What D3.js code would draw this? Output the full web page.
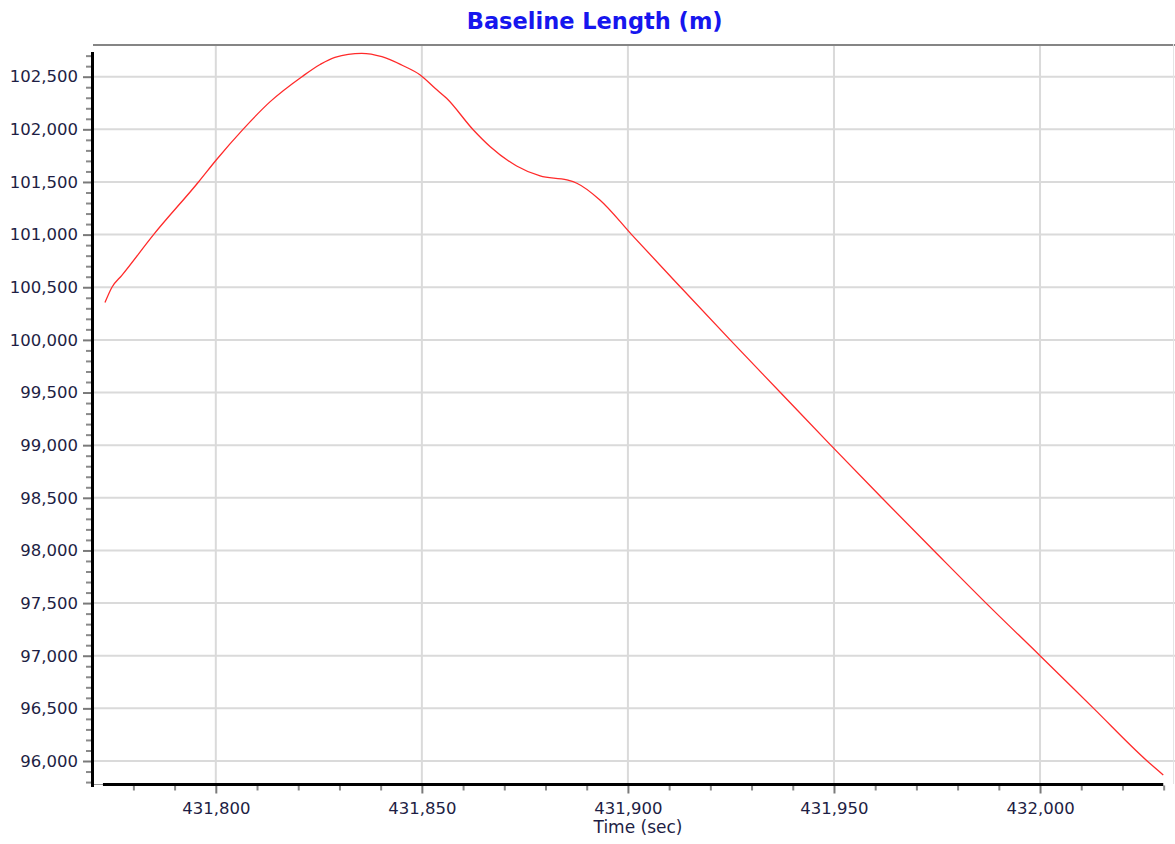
<!DOCTYPE html>
<html>
<head>
<meta charset="utf-8">
<script src="https://cdn.jsdelivr.net/npm/d3@7"></script>
<style>
  html, body { margin: 0; padding: 0; background: #ffffff; }
  svg { display: block; }
  text { font-family: "DejaVu Sans", Verdana, sans-serif; }
</style>
</head>
<body>
<script>
// ---- data ----
const times = [431773.1, 431774.8, 431777.2, 431784.9, 431795.8, 431800.1, 431806.6,
  431813.2, 431820.9, 431825.3, 431828.9, 431835.4, 431840.3, 431845.1, 431849.6, 431853.2,
  431856.0, 431862.5, 431866.6, 431873.0, 431878.7, 431885.2, 431887.6, 431893.2, 431900.9,
  431912.8, 431924.8, 431937.0, 431949.2, 431961.6, 431974.2, 431986.9, 432000.0,
  432013.0, 432026.0, 432029.9];
const lengths = [100354, 100500, 100613, 101000, 101500, 101709, 102000,
  102263, 102500, 102616, 102684, 102722, 102690, 102611, 102516, 102390,
  102295, 101994, 101835, 101652, 101557, 101519, 101488, 101329, 101000,
  100500, 100000, 99500, 99000, 98500, 98000, 97500, 97000,
  96500, 96000, 95868];
const xTicks = [431800, 431850, 431900, 431950, 432000];
const yTicks = [96000, 96500, 97000, 97500, 98000, 98500, 99000, 99500,
  100000, 100500, 101000, 101500, 102000, 102500];
const titleText = "Baseline Length (m)";
const xTitle = "Time (sec)";

// ---- layout ----
const W = 1175, H = 844;
const L = 93, R = 1175, T = 44, B = 784;
const xDomain = [431770.2, 432032.75];
const yDomain = [95781.6, 102810.5];

const svg = d3.select("body").append("svg").attr("width", W).attr("height", H);
const x = d3.scaleLinear().domain(xDomain).range([L, R]);
const y = d3.scaleLinear().domain(yDomain).range([B, T]);

// grid
const grid = svg.append("g").attr("stroke", "#dadada").attr("stroke-width", 2);
grid.selectAll("line.h").data(yTicks).join("line").attr("class", "h")
  .attr("x1", L).attr("x2", R).attr("y1", d => y(d)).attr("y2", d => y(d));
grid.selectAll("line.v").data(xTicks).join("line").attr("class", "v")
  .attr("x1", d => x(d)).attr("x2", d => x(d)).attr("y1", T).attr("y2", B);

// frame: top grey border, right light border, bottom-left grey stub
svg.append("line").attr("x1", L).attr("x2", R).attr("y1", T + 1).attr("y2", T + 1)
  .attr("stroke", "#858585").attr("stroke-width", 2);
svg.append("line").attr("x1", R - 1.5).attr("x2", R - 1.5).attr("y1", T).attr("y2", B)
  .attr("stroke", "#e4e4e4").attr("stroke-width", 1);
svg.append("line").attr("x1", L).attr("x2", x(times[0])).attr("y1", B + 0.5).attr("y2", B + 0.5)
  .attr("stroke", "#9a9a9a").attr("stroke-width", 1);

// minor ticks
const xMinor = d3.range(431780, 432031, 10).filter(v => !xTicks.includes(v));
const yMinor = d3.range(95800, 102701, 100).filter(v => !yTicks.includes(v));

const xMinorAxis = d3.axisBottom(x).tickValues(xMinor).tickSize(5).tickFormat("");
svg.append("g").attr("transform", `translate(0,${B + 1.5})`).call(xMinorAxis)
  .call(g => g.select(".domain").remove())
  .call(g => g.selectAll(".tick line").attr("stroke", "#8a8a8a").attr("stroke-width", 2));
const yMinorAxis = d3.axisLeft(y).tickValues(yMinor).tickSize(5).tickFormat("");
svg.append("g").attr("transform", `translate(${L - 2},0)`).call(yMinorAxis)
  .call(g => g.select(".domain").remove())
  .call(g => g.selectAll(".tick line").attr("stroke", "#8a8a8a").attr("stroke-width", 2));

// major axes
const fmt = d3.format(",");
const xAxis = d3.axisBottom(x).tickValues(xTicks).tickSize(8).tickPadding(9).tickFormat(fmt);
svg.append("g").attr("transform", `translate(0,${B + 1.5})`).call(xAxis)
  .call(g => g.select(".domain").remove())
  .call(g => g.selectAll(".tick line").attr("stroke", "#7a7a7a").attr("stroke-width", 2))
  .call(g => g.selectAll(".tick text").attr("fill", "#1e1e44").attr("font-size", "16.5px")
    .attr("font-family", "DejaVu Sans, Verdana, sans-serif"));
const yAxis = d3.axisLeft(y).tickValues(yTicks).tickSize(8).tickPadding(5).tickFormat(fmt);
svg.append("g").attr("transform", `translate(${L - 2},0)`).call(yAxis)
  .call(g => g.select(".domain").remove())
  .call(g => g.selectAll(".tick line").attr("stroke", "#7a7a7a").attr("stroke-width", 2))
  .call(g => g.selectAll(".tick text").attr("fill", "#1e1e44").attr("font-size", "16.5px")
    .attr("font-family", "DejaVu Sans, Verdana, sans-serif"));

// thick black axis lines (span the data)
svg.append("line").attr("x1", L - 0.5).attr("x2", L - 0.5)
  .attr("y1", y(d3.max(lengths) + 12)).attr("y2", B + 3)
  .attr("stroke", "#000").attr("stroke-width", 3);
svg.append("line").attr("x1", x(times[0]) - 2).attr("x2", x(times[times.length - 1]))
  .attr("y1", B + 0.5).attr("y2", B + 0.5)
  .attr("stroke", "#000").attr("stroke-width", 3);

// data line
const line = d3.line().x((d, i) => x(times[i])).y(d => y(d)).curve(d3.curveMonotoneX);
svg.append("path").datum(lengths).attr("d", line)
  .attr("fill", "none").attr("stroke", "#ff2a2a").attr("stroke-width", 1.3);

// titles
svg.append("text").attr("x", 594.7).attr("y", 29).attr("text-anchor", "middle")
  .attr("font-size", "22.5px").attr("font-weight", "bold").attr("fill", "#1616ee")
  .text(titleText);
svg.append("text").attr("x", 638).attr("y", 833).attr("text-anchor", "middle")
  .attr("font-size", "17px").attr("fill", "#1e1e44").text(xTitle);
</script>
</body>
</html>
